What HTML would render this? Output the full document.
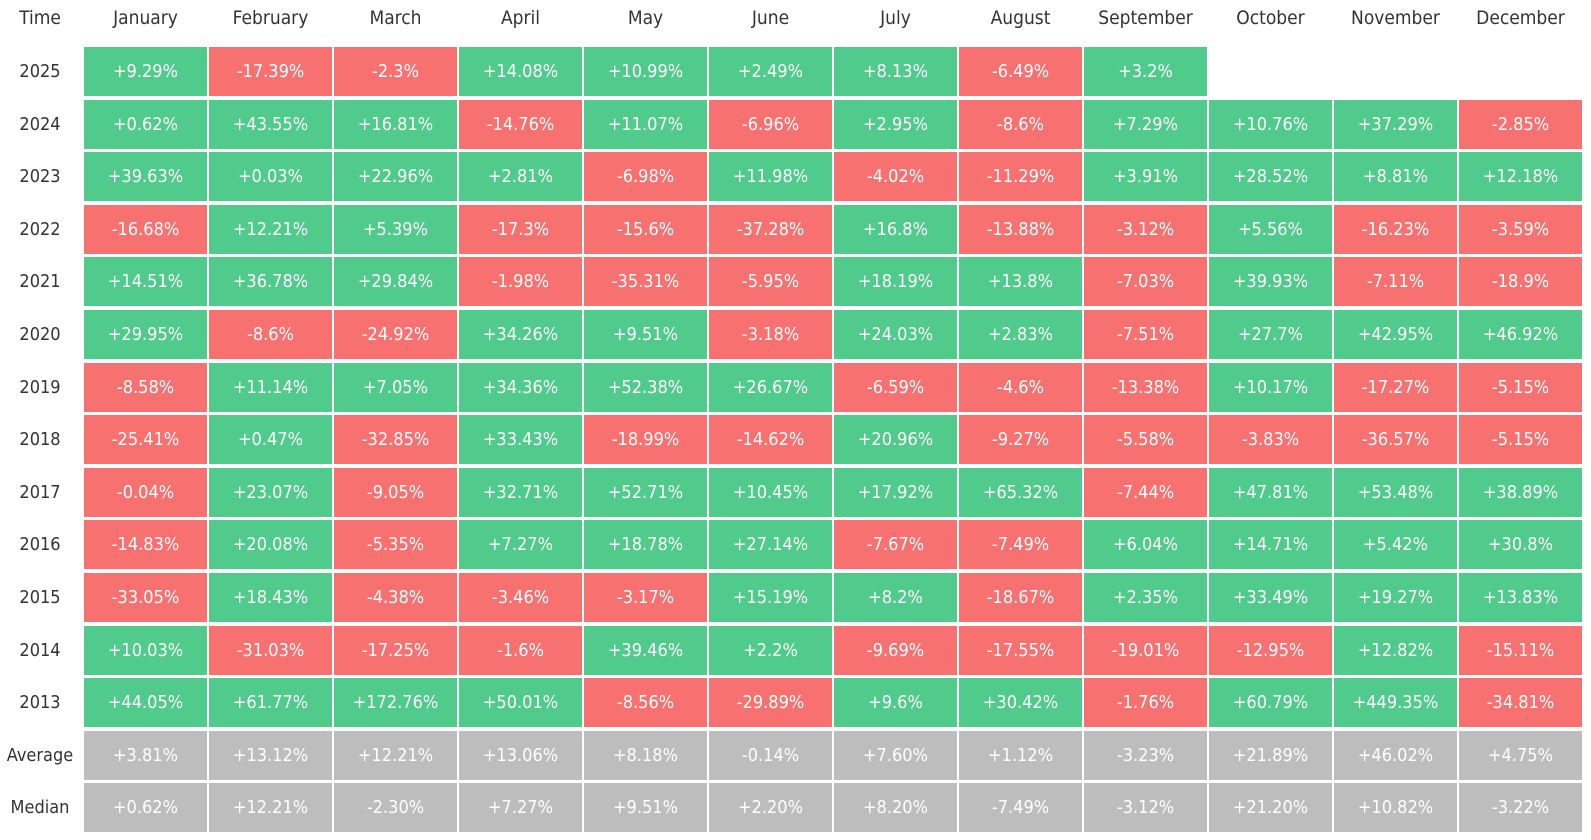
<!DOCTYPE html><html><head><style>
body{margin:0;width:1591px;height:840px;background:#fff;font-family:"DejaVu Sans Condensed","Liberation Sans",sans-serif;position:relative;overflow:hidden}
.c{position:absolute;width:123px;height:49px;line-height:50px;text-align:center;color:#fff;font-size:18px}
.g{background:#50cb8b}.r{background:#f87171}.n{background:#bdbdbd}
.h{position:absolute;text-align:center;color:#333;font-size:19px;line-height:36px;top:0}
.y{position:absolute;left:0;width:80px;text-align:center;color:#333;font-size:18px;height:49px;line-height:50px}
</style></head><body><div id="t"></div>
<script>
const M=["January","February","March","April","May","June","July","August","September","October","November","December"];
const D=[["2025","+9.29%","-17.39%","-2.3%","+14.08%","+10.99%","+2.49%","+8.13%","-6.49%","+3.2%"],
["2024","+0.62%","+43.55%","+16.81%","-14.76%","+11.07%","-6.96%","+2.95%","-8.6%","+7.29%","+10.76%","+37.29%","-2.85%"],
["2023","+39.63%","+0.03%","+22.96%","+2.81%","-6.98%","+11.98%","-4.02%","-11.29%","+3.91%","+28.52%","+8.81%","+12.18%"],
["2022","-16.68%","+12.21%","+5.39%","-17.3%","-15.6%","-37.28%","+16.8%","-13.88%","-3.12%","+5.56%","-16.23%","-3.59%"],
["2021","+14.51%","+36.78%","+29.84%","-1.98%","-35.31%","-5.95%","+18.19%","+13.8%","-7.03%","+39.93%","-7.11%","-18.9%"],
["2020","+29.95%","-8.6%","-24.92%","+34.26%","+9.51%","-3.18%","+24.03%","+2.83%","-7.51%","+27.7%","+42.95%","+46.92%"],
["2019","-8.58%","+11.14%","+7.05%","+34.36%","+52.38%","+26.67%","-6.59%","-4.6%","-13.38%","+10.17%","-17.27%","-5.15%"],
["2018","-25.41%","+0.47%","-32.85%","+33.43%","-18.99%","-14.62%","+20.96%","-9.27%","-5.58%","-3.83%","-36.57%","-5.15%"],
["2017","-0.04%","+23.07%","-9.05%","+32.71%","+52.71%","+10.45%","+17.92%","+65.32%","-7.44%","+47.81%","+53.48%","+38.89%"],
["2016","-14.83%","+20.08%","-5.35%","+7.27%","+18.78%","+27.14%","-7.67%","-7.49%","+6.04%","+14.71%","+5.42%","+30.8%"],
["2015","-33.05%","+18.43%","-4.38%","-3.46%","-3.17%","+15.19%","+8.2%","-18.67%","+2.35%","+33.49%","+19.27%","+13.83%"],
["2014","+10.03%","-31.03%","-17.25%","-1.6%","+39.46%","+2.2%","-9.69%","-17.55%","-19.01%","-12.95%","+12.82%","-15.11%"],
["2013","+44.05%","+61.77%","+172.76%","+50.01%","-8.56%","-29.89%","+9.6%","+30.42%","-1.76%","+60.79%","+449.35%","-34.81%"],
["Average","+3.81%","+13.12%","+12.21%","+13.06%","+8.18%","-0.14%","+7.60%","+1.12%","-3.23%","+21.89%","+46.02%","+4.75%"],
["Median","+0.62%","+12.21%","-2.30%","+7.27%","+9.51%","+2.20%","+8.20%","-7.49%","-3.12%","+21.20%","+10.82%","-3.22%"]];
let h='<div class="h" style="left:0;width:80px">Time</div>';
M.forEach((m,i)=>h+=`<div class="h" style="left:${84+i*125}px;width:123px">${m}</div>`);
D.forEach((r,j)=>{const top=47+j*52.6;h+=`<div class="y" style="top:${top}px">${r[0]}</div>`;
for(let i=1;i<r.length;i++){const cl=j>=13?'n':(r[i][0]=='-'?'r':'g');h+=`<div class="c ${cl}" style="left:${84+(i-1)*125}px;top:${top}px">${r[i]}</div>`}});
document.getElementById('t').innerHTML=h;
</script></body></html>
